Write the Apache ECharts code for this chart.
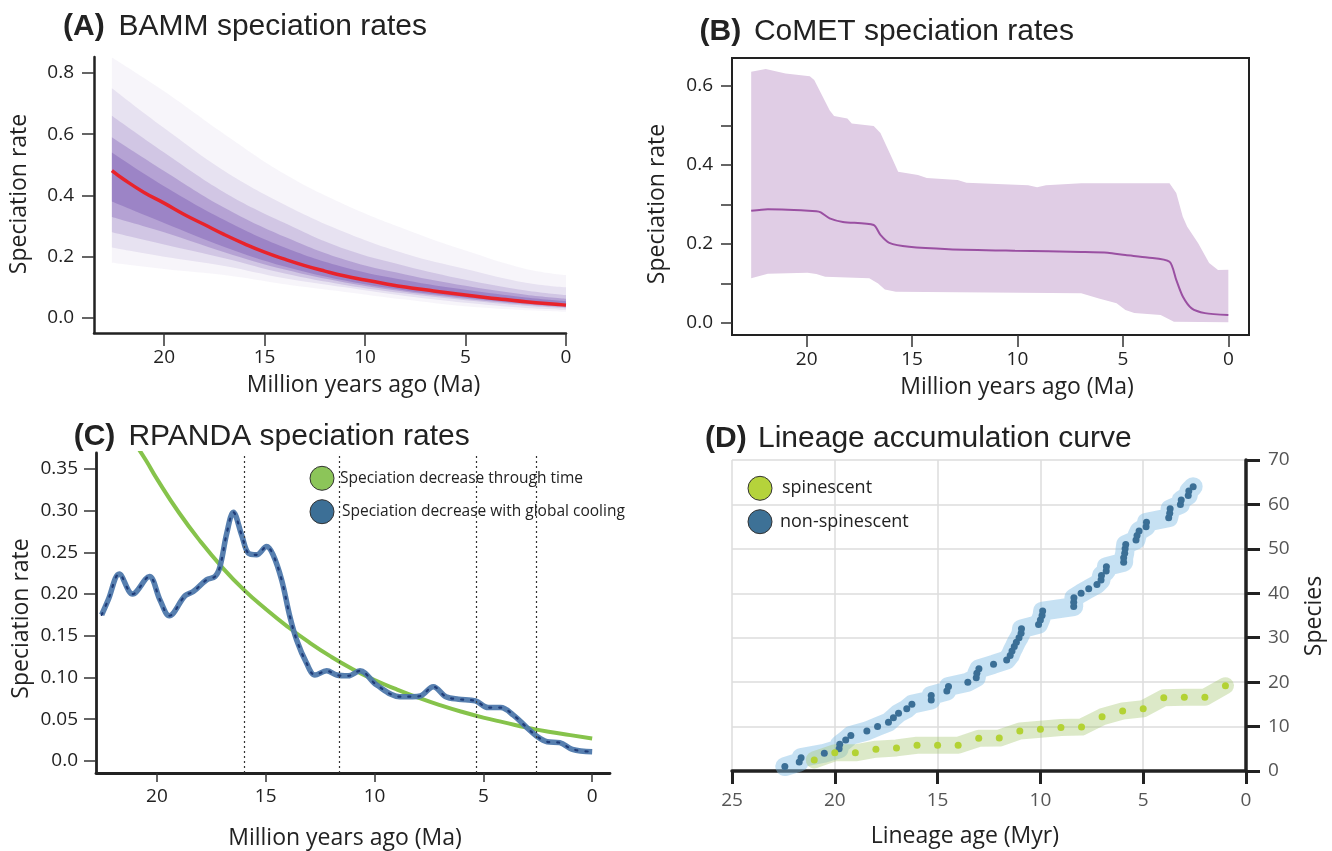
<!DOCTYPE html>
<html>
<head>
<meta charset="utf-8">
<title>Speciation rates</title>
<script src="https://cdn.jsdelivr.net/npm/echarts@6.0.0/dist/echarts.min.js"></script>
<style>
  html, body { margin: 0; padding: 0; background: #fff; }
  #chart { width: 1332px; height: 851px; }
</style>
</head>
<body>
<div id="chart"></div>
<script>
// (A) BAMM speciation rates: mean curve and density bands (outer to inner)
var bammX = [22.6, 22, 21, 20, 19, 18, 17, 16, 15, 14, 13, 12, 11, 10, 9, 8, 7, 6, 5, 4, 3, 2, 1, 0];
var bammRate = [0.481, 0.452, 0.41, 0.375, 0.338, 0.305, 0.272, 0.242, 0.215, 0.192, 0.171, 0.153, 0.137, 0.124, 0.112, 0.101, 0.092, 0.083, 0.075, 0.067, 0.06, 0.053, 0.047, 0.042];
var bammBandX = [22.6, 20, 17, 14, 11, 8, 5, 2, 0];
var bammLow1 = [0.18, 0.16, 0.14, 0.11, 0.085, 0.06, 0.038, 0.025, 0.02];
var bammUp1 = [0.85, 0.74, 0.6, 0.47, 0.37, 0.29, 0.22, 0.16, 0.14];
var bammLow2 = [0.23, 0.2, 0.17, 0.13, 0.1, 0.072, 0.05, 0.033, 0.027];
var bammUp2 = [0.75, 0.62, 0.48, 0.37, 0.28, 0.21, 0.16, 0.115, 0.1];
var bammLow3 = [0.28, 0.24, 0.195, 0.145, 0.108, 0.08, 0.058, 0.04, 0.032];
var bammUp3 = [0.66, 0.54, 0.41, 0.31, 0.225, 0.17, 0.125, 0.09, 0.075];
var bammLow4 = [0.33, 0.28, 0.215, 0.158, 0.116, 0.086, 0.063, 0.044, 0.035];
var bammUp4 = [0.59, 0.48, 0.36, 0.265, 0.19, 0.142, 0.105, 0.076, 0.063];
var bammLow5 = [0.38, 0.31, 0.232, 0.168, 0.122, 0.09, 0.067, 0.047, 0.038];
var bammUp5 = [0.54, 0.43, 0.32, 0.23, 0.165, 0.123, 0.092, 0.067, 0.055];
var bammYTicks = [0, 0.2, 0.4, 0.6, 0.8];
var maTicks = [0, 5, 10, 15, 20];

// (B) CoMET speciation rates
var cometMeanX = [22.63, 21.84, 19.54, 19.33, 18.91, 18.28, 16.82, 16.5, 16.08, 15.14, 13.26, 10.12, 6.98, 5.72, 4.88, 3.84, 2.79, 2.47, 2.16, 1.74, 1.11, 0];
var cometMean = [0.284, 0.288, 0.283, 0.28, 0.265, 0.256, 0.248, 0.223, 0.203, 0.193, 0.187, 0.183, 0.18, 0.178, 0.172, 0.166, 0.155, 0.109, 0.067, 0.037, 0.025, 0.02];
var cometUpX = [22.63, 21.94, 21.0, 19.85, 19.64, 18.91, 18.7, 18.07, 17.86, 16.82, 16.5, 15.98, 15.66, 14.72, 14.3, 12.84, 12.42, 9.49, 9.07, 8.65, 6.98, 2.79, 2.47, 2.16, 1.95, 1.43, 0.91, 0.49, 0];
var cometUp = [0.636, 0.643, 0.632, 0.625, 0.615, 0.539, 0.524, 0.518, 0.505, 0.499, 0.481, 0.421, 0.383, 0.375, 0.367, 0.362, 0.355, 0.349, 0.344, 0.349, 0.354, 0.354, 0.329, 0.269, 0.244, 0.202, 0.152, 0.134, 0.135];
var cometLowX = [22.63, 21.84, 19.96, 19.54, 19.12, 17.03, 16.61, 16.29, 15.77, 6.98, 6.14, 5.3, 4.88, 4.46, 3.21, 2.58, 0];
var cometLow = [0.113, 0.125, 0.127, 0.124, 0.117, 0.113, 0.1, 0.085, 0.079, 0.075, 0.062, 0.05, 0.033, 0.025, 0.02, 0.003, 0.002];
var cometYTicks = [0, 0.1, 0.2, 0.3, 0.4, 0.5, 0.6];
var cometYLabels = [0, 0.2, 0.4, 0.6];

// (C) RPANDA speciation rates
var rpGreenX = [21, 20.5, 20, 19, 18, 17, 16, 15, 14, 13, 12, 11, 10, 9, 8, 7, 6, 5, 4, 3, 2, 1, 0];
var rpGreen = [0.38, 0.36, 0.338, 0.298, 0.263, 0.232, 0.205, 0.182, 0.161, 0.142, 0.125, 0.11, 0.097, 0.086, 0.076, 0.067, 0.059, 0.052, 0.046, 0.04, 0.035, 0.031, 0.027];
var rpBlueX = [22.54, 22.24, 21.73, 21.12, 20.35, 19.86, 19.43, 18.71, 18.33, 17.72, 17.33, 17.1, 16.79, 16.49, 16.11, 15.8, 15.42, 14.96, 14.66, 14.27, 13.89, 13.58, 13.12, 12.74, 12.2, 11.74, 11.21, 10.67, 9.9, 8.84, 8.26, 7.88, 7.3, 6.72, 6.14, 5.36, 4.78, 4.2, 3.62, 3.04, 2.56, 2.07, 1.49, 0.91, 0];
var rpBlue = [0.175, 0.193, 0.224, 0.2, 0.221, 0.193, 0.174, 0.198, 0.203, 0.217, 0.221, 0.233, 0.273, 0.298, 0.271, 0.249, 0.247, 0.257, 0.247, 0.217, 0.173, 0.145, 0.117, 0.103, 0.108, 0.103, 0.102, 0.108, 0.091, 0.077, 0.077, 0.078, 0.089, 0.077, 0.074, 0.072, 0.064, 0.064, 0.055, 0.041, 0.03, 0.023, 0.022, 0.014, 0.011];
var epochBounds = [15.97, 11.63, 5.33, 2.58];
var rpYTicks = [0, 0.05, 0.1, 0.15, 0.2, 0.25, 0.3, 0.35];

// (D) Lineage accumulation curve
var spinAge = [21, 20, 19, 18, 17, 16, 15, 14, 13, 12, 11, 10, 9, 8, 7, 6, 5, 4, 3, 2, 1];
var spinN = [2.5, 4.1, 4.1, 4.9, 5.2, 5.8, 5.8, 5.8, 7.35, 7.4, 9.0, 9.4, 9.8, 9.9, 12.2, 13.5, 14.0, 16.5, 16.6, 16.6, 19.2];
var nonSpinAge = [22.43, 21.73, 21.64, 20.51, 19.79, 19.76, 19.47, 19.22, 18.44, 17.92,
  17.39, 17.15, 16.9, 16.5, 16.25, 15.31, 15.31, 14.55, 14.47, 13.53,
  13.12, 13.09, 12.99, 12.28, 11.64, 11.47, 11.38, 11.27, 11.17, 11.04,
  10.94, 10.92, 10.09, 10.0, 9.92, 9.89, 8.38, 8.38, 8.37, 8.02,
  7.65, 7.25, 7.05, 7.03, 6.8, 6.79, 5.95, 5.95, 5.9, 5.88,
  5.85, 5.35, 5.3, 5.2, 4.86, 4.84, 3.76, 3.71, 3.69, 3.19,
  3.15, 2.81, 2.78, 2.57];
var nonSpinN = [1, 2, 3, 4, 5, 6, 7, 8, 9, 10,
  11, 12, 13, 14, 15, 16, 17, 18, 19, 20,
  21, 22, 23, 24, 25, 26, 27, 28, 29, 30,
  31, 32, 33, 34, 35, 36, 37, 38, 39, 40,
  41, 42, 43, 44, 45, 46, 47, 48, 49, 50,
  51, 52, 53, 54, 55, 56, 57, 58, 59, 60,
  61, 62, 63, 64];

var LABEL_FONT = '"Open Sans", sans-serif';
var TITLE_FONT = '"Liberation Sans", Arial, sans-serif';

function pairs(xs, ys) {
    return xs.map(function (x, i) { return [x, ys[i]]; });
}

// two stacked lines: invisible lower bound + filled thickness.
// the rate is put in the first dimension so that the stack adds on y, not on x
function bandSeries(name, low, up, alpha) {
    var diff = up.map(function (u, i) { return u - low[i]; });
    var flip = function (ys) { return bammBandX.map(function (x, i) { return [ys[i], x]; }); };
    var common = {
        type: 'line', xAxisIndex: 0, yAxisIndex: 0, stack: name,
        encode: { x: 1, y: 0 },
        symbol: 'none', smooth: 0.4, silent: true,
        lineStyle: { opacity: 0 }
    };
    return [
        Object.assign({}, common, { data: flip(low) }),
        Object.assign({}, common, {
            data: flip(diff),
            areaStyle: { color: 'rgb(100,62,165)', opacity: alpha }
        })
    ];
}

function tickLabel(size, color) {
    return { fontFamily: LABEL_FONT, fontSize: size, color: color };
}

function txt(x, y, text, font, extra) {
    return Object.assign({
        type: 'text', x: x, y: y, silent: true,
        style: { text: text, font: font, fill: '#222', align: 'left', verticalAlign: 'middle' }
    }, extra || {});
}

function axisTitle(x, y, text, rotated) {
    return {
        type: 'text', x: x, y: y, rotation: rotated ? Math.PI / 2 : 0, silent: true,
        style: { text: text, font: '23px ' + LABEL_FONT, fill: '#222', align: 'center', verticalAlign: 'middle' }
    };
}

var chart = echarts.init(document.getElementById('chart'));

var series = [];
series = series.concat(bandSeries('b1', bammLow1, bammUp1, 0.05));
series = series.concat(bandSeries('b2', bammLow2, bammUp2, 0.10));
series = series.concat(bandSeries('b3', bammLow3, bammUp3, 0.17));
series = series.concat(bandSeries('b4', bammLow4, bammUp4, 0.26));
series = series.concat(bandSeries('b5', bammLow5, bammUp5, 0.30));
series.push({
    type: 'line', xAxisIndex: 0, yAxisIndex: 0, data: pairs(bammX, bammRate),
    symbol: 'none', smooth: true, z: 5,
    lineStyle: { color: '#e8232b', width: 3.5 }
});

// (B) interval as a polygon built from the upper and lower bounds
series.push({
    type: 'custom', xAxisIndex: 1, yAxisIndex: 1, data: [[0, 0]], silent: true,
    encode: { x: 0, y: 1 },
    renderItem: function (params, api) {
        var pts = [];
        for (var i = 0; i < cometUpX.length; i++) pts.push(api.coord([cometUpX[i], cometUp[i]]));
        for (var j = cometLowX.length - 1; j >= 0; j--) pts.push(api.coord([cometLowX[j], cometLow[j]]));
        return { type: 'polygon', shape: { points: pts }, style: { fill: '#e0cde5' } };
    }
});
series.push({
    type: 'line', xAxisIndex: 1, yAxisIndex: 1, data: pairs(cometMeanX, cometMean),
    symbol: 'none', smooth: 0.25, z: 5,
    lineStyle: { color: '#9a50a2', width: 2 }
});

// (C)
series.push({
    type: 'line', xAxisIndex: 2, yAxisIndex: 2, data: pairs(rpGreenX, rpGreen),
    symbol: 'none', smooth: true, z: 3,
    lineStyle: { color: '#86c34b', width: 4 },
    markLine: {
        silent: true, symbol: ['none', 'none'], label: { show: false },
        lineStyle: { color: '#333', width: 1.2, type: [2, 3] },
        data: epochBounds.map(function (v) { return { xAxis: v }; })
    }
});
series.push({
    type: 'line', xAxisIndex: 2, yAxisIndex: 2, data: pairs(rpBlueX, rpBlue),
    symbol: 'none', smooth: 0.35, z: 4,
    lineStyle: { color: '#4e78ab', width: 5.5, opacity: 0.95 }
});
series.push({
    type: 'line', xAxisIndex: 2, yAxisIndex: 2, data: pairs(rpBlueX, rpBlue),
    symbol: 'none', smooth: 0.35, z: 5,
    lineStyle: { color: '#1f3c78', width: 2.2, type: [2, 8], cap: 'round' }
});

// (D)
series.push({
    type: 'line', xAxisIndex: 3, yAxisIndex: 3, data: pairs(nonSpinAge, nonSpinN),
    symbol: 'none', silent: true, z: 2,
    lineStyle: { color: 'rgba(128,188,228,0.45)', width: 19, cap: 'round', join: 'round' }
});
series.push({
    type: 'line', xAxisIndex: 3, yAxisIndex: 3, data: pairs(spinAge, spinN),
    symbol: 'none', silent: true, z: 2,
    lineStyle: { color: 'rgba(168,200,118,0.4)', width: 17, cap: 'round', join: 'round' }
});
series.push({
    type: 'scatter', xAxisIndex: 3, yAxisIndex: 3, data: pairs(nonSpinAge, nonSpinN),
    symbolSize: 7, z: 4, itemStyle: { color: '#3b6f96', opacity: 1 }
});
series.push({
    type: 'scatter', xAxisIndex: 3, yAxisIndex: 3, data: pairs(spinAge, spinN),
    symbolSize: 7, z: 4, itemStyle: { color: '#b3d234', opacity: 1 }
});

var darkLine = function (w) { return { show: true, onZero: false, lineStyle: { color: '#222', width: w } }; };

var option = {
    animation: false,
    backgroundColor: '#fff',
    grid: [
        { left: 94, top: 57, width: 472, height: 276 },
        { left: 732, top: 58, width: 517, height: 277, show: true, borderColor: '#222', borderWidth: 2, backgroundColor: 'transparent' },
        { left: 96, top: 453, width: 514, height: 320 },
        { left: 732, top: 460, width: 514, height: 311 }
    ],
    xAxis: [
        {
            gridIndex: 0, type: 'value', min: 0, max: 23.49, inverse: true,
            axisLine: darkLine(2.5), splitLine: { show: false },
            axisTick: { customValues: maTicks, length: 13, lineStyle: { color: '#333', width: 1.5 } },
            axisLabel: Object.assign({ customValues: maTicks, margin: 15 }, tickLabel(19, '#222'))
        },
        {
            gridIndex: 1, type: 'value', min: -0.98, max: 23.54, inverse: true,
            axisLine: { show: false, onZero: false }, splitLine: { show: false },
            axisTick: { customValues: maTicks, length: 12, lineStyle: { color: '#333', width: 1.5 } },
            axisLabel: Object.assign({ customValues: maTicks, margin: 15 }, tickLabel(19, '#222'))
        },
        {
            gridIndex: 2, type: 'value', min: -0.82, max: 22.8, inverse: true,
            axisLine: darkLine(2.8), splitLine: { show: false },
            axisTick: { customValues: maTicks, length: 9, lineStyle: { color: '#333', width: 1.5 } },
            axisLabel: Object.assign({ customValues: maTicks, margin: 14 }, tickLabel(19, '#222'))
        },
        {
            gridIndex: 3, type: 'value', min: 0, max: 25, interval: 5, inverse: true,
            axisLine: darkLine(3.5),
            splitLine: { show: true, lineStyle: { color: '#dddddd', width: 1.5 } },
            axisTick: { length: 13, lineStyle: { color: '#222', width: 3 } },
            axisLabel: Object.assign({ margin: 20 }, tickLabel(19, '#555'))
        }
    ],
    yAxis: [
        {
            gridIndex: 0, type: 'value', min: -0.049, max: 0.852,
            axisLine: darkLine(2.5), splitLine: { show: false },
            axisTick: { customValues: bammYTicks, length: 12, lineStyle: { color: '#333', width: 1.5 } },
            axisLabel: Object.assign({
                customValues: bammYTicks, margin: 20,
                formatter: function (v) { return v.toFixed(1); }
            }, tickLabel(19, '#222'))
        },
        {
            gridIndex: 1, type: 'value', min: -0.0304, max: 0.671,
            axisLine: { show: false, onZero: false }, splitLine: { show: false },
            axisTick: { customValues: cometYTicks, length: 11, lineStyle: { color: '#333', width: 1.5 } },
            axisLabel: Object.assign({
                customValues: cometYLabels, margin: 19,
                formatter: function (v) { return v.toFixed(1); }
            }, tickLabel(19, '#222'))
        },
        {
            gridIndex: 2, type: 'value', min: -0.0144, max: 0.369,
            axisLine: darkLine(2.8), splitLine: { show: false },
            axisTick: { customValues: rpYTicks, length: 12, lineStyle: { color: '#333', width: 1.5 } },
            axisLabel: Object.assign({
                customValues: rpYTicks, margin: 18,
                formatter: function (v) { return v === 0 ? '0.0' : v.toFixed(2); }
            }, tickLabel(19, '#222'))
        },
        {
            gridIndex: 3, type: 'value', position: 'right', min: 0, max: 70, interval: 10,
            axisLine: darkLine(3.5),
            splitLine: { show: true, lineStyle: { color: '#dddddd', width: 1.5 } },
            axisTick: { length: 14, lineStyle: { color: '#222', width: 3 } },
            axisLabel: Object.assign({ margin: 22 }, tickLabel(19, '#555'))
        }
    ],
    graphic: [
        txt(63, 27, '(A)', 'bold 30px ' + TITLE_FONT),
        txt(118.6, 27, 'BAMM speciation rates', '30px ' + TITLE_FONT),
        txt(699.6, 31.7, '(B)', 'bold 30px ' + TITLE_FONT),
        txt(753.9, 31.7, 'CoMET speciation rates', '30px ' + TITLE_FONT),
        txt(73.7, 436.7, '(C)', 'bold 30px ' + TITLE_FONT),
        txt(128.4, 436.7, 'RPANDA speciation rates', '30px ' + TITLE_FONT),
        txt(705, 438.5, '(D)', 'bold 30px ' + TITLE_FONT),
        txt(758, 438.5, 'Lineage accumulation curve', '30px ' + TITLE_FONT),

        axisTitle(363.6, 385, 'Million years ago (Ma)'),
        axisTitle(19, 194, 'Speciation rate', true),
        axisTitle(1017, 387, 'Million years ago (Ma)'),
        axisTitle(657.6, 204, 'Speciation rate', true),
        axisTitle(345, 838, 'Million years ago (Ma)'),
        axisTitle(21, 618.5, 'Speciation rate', true),
        axisTitle(964.8, 836.7, 'Lineage age (Myr)'),
        axisTitle(1314, 616, 'Species', true),

        // legend (C)
        { type: 'circle', silent: true, shape: { cx: 322, cy: 478.3, r: 12 }, style: { fill: '#8cc559', stroke: '#333', lineWidth: 1 }, z: 10 },
        { type: 'circle', silent: true, shape: { cx: 322, cy: 511.7, r: 12 }, style: { fill: '#3c6f96', stroke: '#333', lineWidth: 1 }, z: 10 },
        txt(340, 478.3, 'Speciation decrease through time', '15.5px ' + LABEL_FONT, { z: 10 }),
        txt(342, 511.7, 'Speciation decrease with global cooling', '15.5px ' + LABEL_FONT, { z: 10 }),

        // legend (D)
        { type: 'circle', silent: true, shape: { cx: 760, cy: 488.3, r: 12 }, style: { fill: '#b5d33b', stroke: '#333', lineWidth: 1 }, z: 10 },
        { type: 'circle', silent: true, shape: { cx: 760, cy: 521.7, r: 12 }, style: { fill: '#3d7196', stroke: '#333', lineWidth: 1 }, z: 10 },
        txt(782, 488.3, 'spinescent', '18px ' + LABEL_FONT, { z: 10 }),
        txt(780, 521.7, 'non-spinescent', '18px ' + LABEL_FONT, { z: 10 })
    ],
    series: series
};

chart.setOption(option);
</script>
</body>
</html>
